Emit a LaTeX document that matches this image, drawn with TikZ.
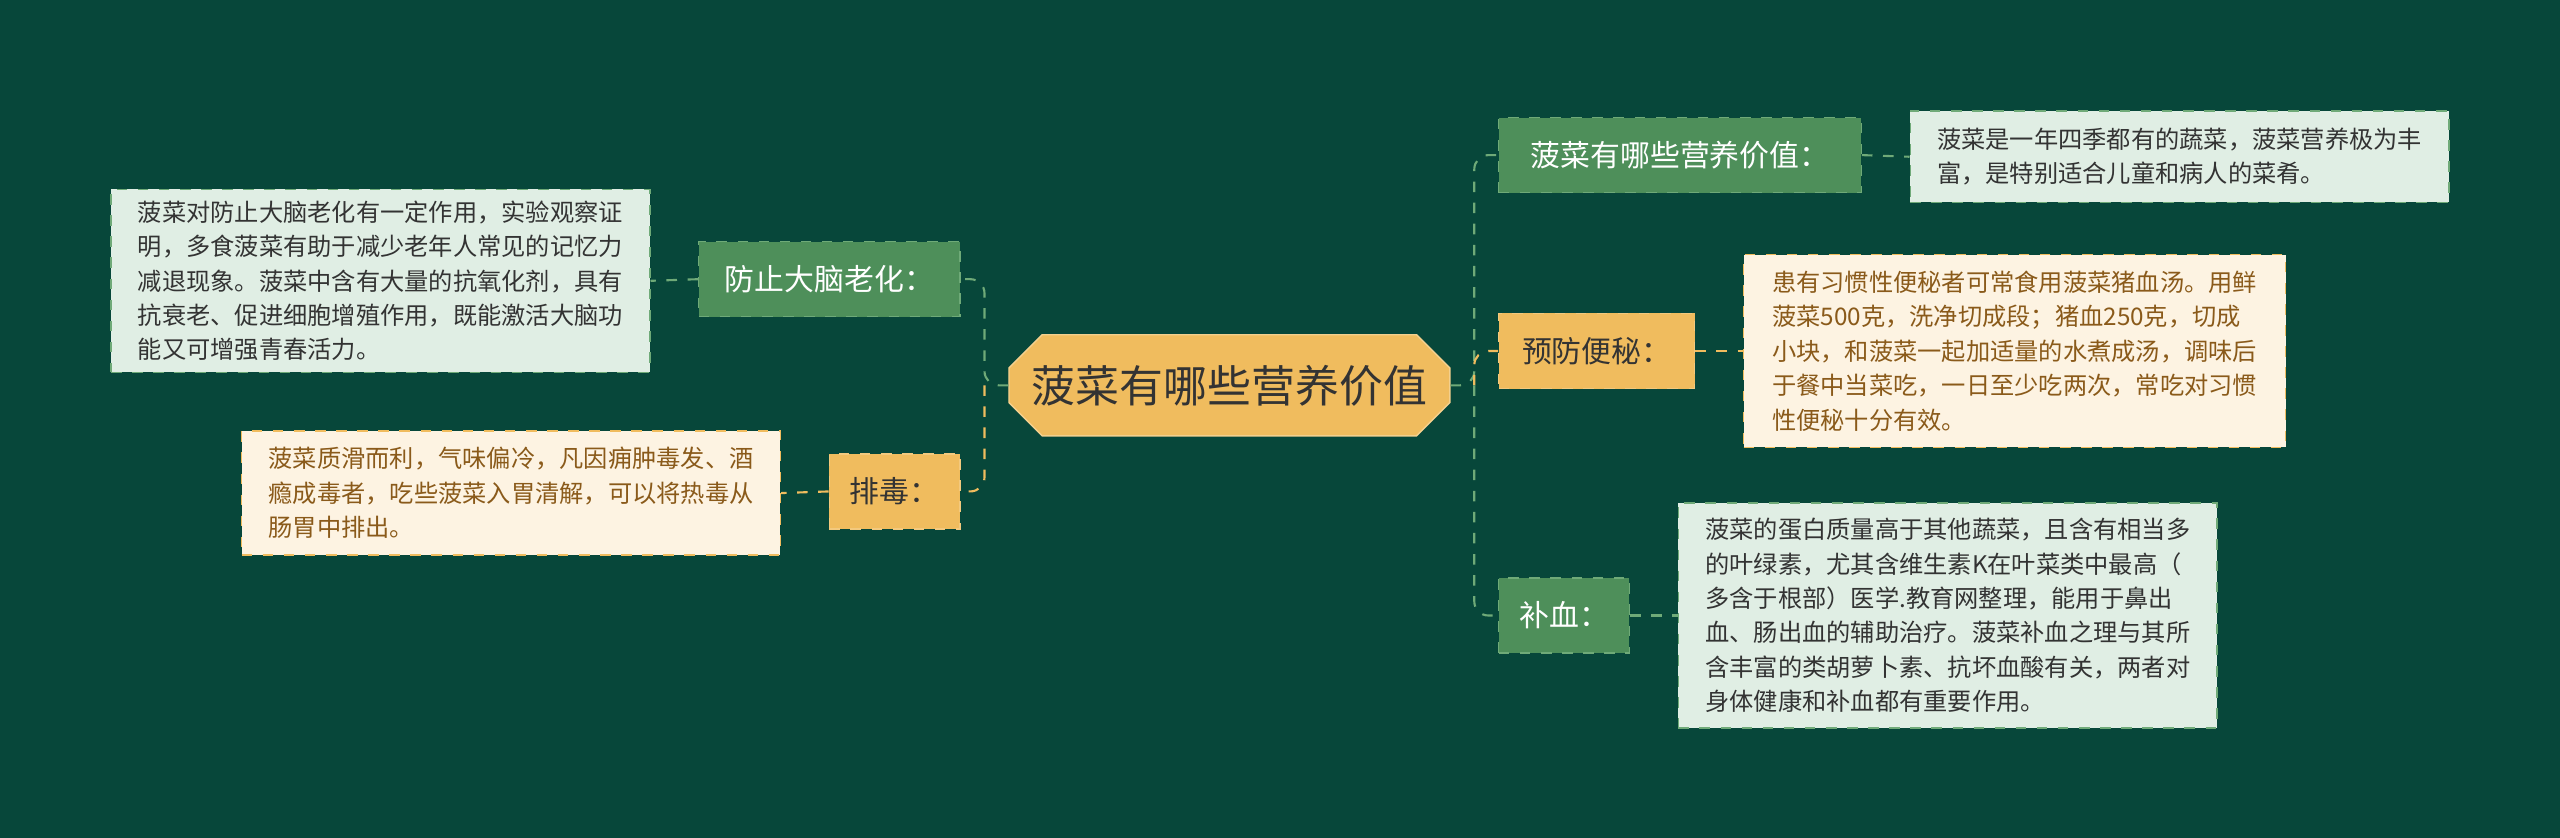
\documentclass[tikz,border=0pt]{standalone}
\usepackage{fontspec}
\setmainfont{Noto Sans CJK SC}
\usetikzlibrary{shapes.misc}
\definecolor{bg}{HTML}{07473A}
\definecolor{gbox}{HTML}{4E8F5A}
\definecolor{gline}{HTML}{6FAA78}
\definecolor{obox}{HTML}{F0BC5E}
\definecolor{gleaf}{HTML}{E0EEE4}
\definecolor{oleaf}{HTML}{FDF3E2}
\definecolor{otext}{HTML}{8A5A1A}
\definecolor{gtext}{HTML}{333333}
\def\px{0.01633cm}
\begin{document}
\begin{tikzpicture}[x=0.01633cm,y=-0.01633cm,
 gb/.style={fill=gbox,draw=gline,dashed,text=white,font=\fontsize{8.5}{10}\selectfont,inner sep=0pt,minimum height=46*\px},
 ob/.style={fill=obox,draw=obox!80!white,dashed,text=gtext,font=\fontsize{8.5}{10}\selectfont,inner sep=0pt,minimum height=46*\px},
 gl/.style={fill=gleaf,draw=gline,dashed,text=gtext,font=\fontsize{6.9}{9.8}\selectfont,align=left,inner sep=0pt},
 ol/.style={fill=oleaf,draw=obox,dashed,text=otext,font=\fontsize{6.9}{9.8}\selectfont,align=left,inner sep=0pt},
 gc/.style={draw=gline,dashed,line width=0.6pt,rounded corners=4pt},
 oc/.style={draw=obox,dashed,line width=0.6pt,rounded corners=4pt}]
\fill[bg] (0,0) rectangle (1568,513);
\node[chamfered rectangle,chamfered rectangle xsep=10pt,fill=obox,draw=obox!70!white,minimum width=270*\px,minimum height=62*\px,inner sep=0pt,font=\fontsize{12.5}{14}\selectfont,text=gtext] (c) at (753,236) {菠菜有哪些营养价值};
\node[gb,minimum width=222*\px] (r1) at (1029,95) {菠菜有哪些营养价值：};
\node[ob,minimum width=120*\px] (r2) at (978,215) {预防便秘：};
\node[gb,minimum width=80*\px] (r3) at (958,377) {补血：};
\node[gb,minimum width=160*\px] (l1) at (508,171) {防止大脑老化：};
\node[ob,minimum width=80*\px] (l2) at (548,301) {排毒：};
\node[gl,minimum width=330*\px,minimum height=56*\px] (r1l) at (1335,96) {菠菜是一年四季都有的蔬菜，菠菜营养极为丰\\富，是特别适合儿童和病人的菜肴。};
\node[ol,minimum width=332*\px,minimum height=118*\px] (r2l) at (1234,215) {患有习惯性便秘者可常食用菠菜猪血汤。用鲜\\菠菜500克，洗净切成段；猪血250克，切成\\小块，和菠菜一起加适量的水煮成汤，调味后\\于餐中当菜吃，一日至少吃两次，常吃对习惯\\性便秘十分有效。};
\node[gl,minimum width=330*\px,minimum height=138*\px] (r3l) at (1193,377) {菠菜的蛋白质量高于其他蔬菜，且含有相当多\\的叶绿素，尤其含维生素K在叶菜类中最高（\\多含于根部）医学.教育网整理，能用于鼻出\\血、肠出血的辅助治疗。菠菜补血之理与其所\\含丰富的类胡萝卜素、抗坏血酸有关，两者对\\身体健康和补血都有重要作用。};
\node[gl,minimum width=330*\px,minimum height=112*\px] (l1l) at (233,172) {菠菜对防止大脑老化有一定作用，实验观察证\\明，多食菠菜有助于减少老年人常见的记忆力\\减退现象。菠菜中含有大量的抗氧化剂，具有\\抗衰老、促进细胞增殖作用，既能激活大脑功\\能又可增强青春活力。};
\node[ol,minimum width=330*\px,minimum height=76*\px] (l2l) at (313,302) {菠菜质滑而利，气味偏冷，凡因痈肿毒发、酒\\瘾成毒者，吃些菠菜入胃清解，可以将热毒从\\肠胃中排出。};
\coordinate (rt) at (903,236);
\coordinate (lt) at (603,236);
\draw[gc] (c.east) -- (rt) |- (r1.west);
\draw[oc] (rt) |- (r2.west);
\draw[gc] (rt) |- (r3.west);
\draw[gc] (c.west) -- (lt) |- (l1.east);
\draw[oc] (lt) |- (l2.east);
\draw[gc] (r1.east) -- (r1l.west);
\draw[oc] (r2.east) -- (r2l.west);
\draw[gc] (r3.east) -- (r3l.west);
\draw[gc] (l1.west) -- (l1l.east);
\draw[oc] (l2.west) -- (l2l.east);
\end{tikzpicture}
\end{document}
